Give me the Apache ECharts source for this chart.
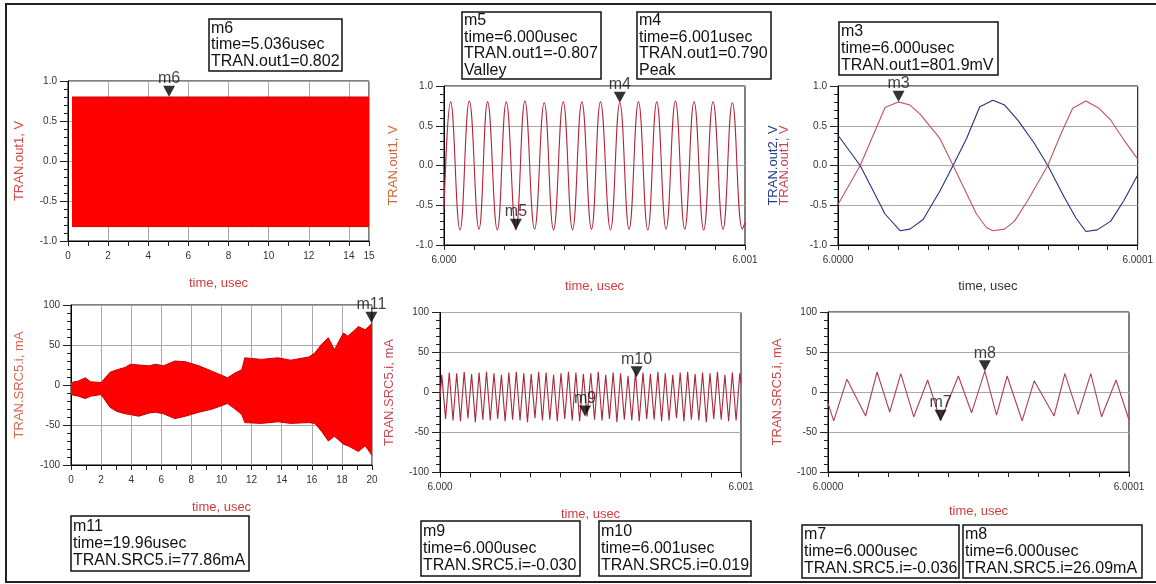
<!DOCTYPE html>
<html><head><meta charset="utf-8">
<script src="https://cdn.jsdelivr.net/npm/echarts/dist/echarts.min.js"></script>
<style>html,body{margin:0;padding:0;background:#fff}#c{width:1156px;height:584px}</style>
</head><body><div id="c"></div>
<script>
// ---------------- DATA ----------------
// Panel 1: TRAN.out1 over 0..15 usec (dense oscillation -> envelope)
const t1 = [0.2, 3, 6, 9, 12, 15];
const up1 = [0.80, 0.80, 0.80, 0.80, 0.80, 0.80];
const lo1 = [-0.82, -0.82, -0.82, -0.82, -0.82, -0.82];

// Panel 2: TRAN.out1, time offset from 6.000 usec in ps
const t2 = [0, 22.1, 53.1, 84.1, 116.2, 144.9, 177.0, 206.9, 238.9, 268.8, 300.9, 333.0, 363.9, 396.0, 427.0, 458.0, 490.0, 519.9, 553.1, 584.1, 615.0, 646.0, 677.0, 706.9, 737.8, 768.8, 799.8, 830.8, 862.8, 893.8, 927.0, 958.0, 991.2, 1000];
const v2 = [-0.55, 0.80, -0.81, 0.81, -0.80, 0.80, -0.81, 0.80, -0.81, 0.81, -0.80, 0.79, -0.81, 0.80, -0.81, 0.80, -0.80, 0.80, -0.81, 0.79, -0.80, 0.80, -0.81, 0.80, -0.80, 0.81, -0.80, 0.80, -0.81, 0.80, -0.80, 0.79, -0.80, -0.72];

// Panel 3: TRAN.out1 (red) and TRAN.out2 (blue), offset from 6.0000 usec in ps
const t3r = [0, 7.4, 15.7, 20.1, 24, 27.3, 34, 38.4, 46.2, 49.5, 51.7, 55.6, 58.9, 63.3, 70, 74.4, 78.3, 82.7, 87.1, 91, 95.4, 100];
const v3r = [-0.49, 0, 0.73, 0.80, 0.76, 0.65, 0.34, 0, -0.61, -0.78, -0.82, -0.80, -0.70, -0.44, 0, 0.40, 0.72, 0.81, 0.72, 0.57, 0.32, 0.08];
const t3b = [0, 7.4, 15.7, 20.7, 24, 28.4, 34, 38.4, 42.9, 47.3, 51.7, 55.6, 60, 65.5, 70, 75.5, 79.4, 82.7, 86.5, 91, 95.4, 100];
const v3b = [0.38, 0, -0.61, -0.82, -0.80, -0.68, -0.32, 0, 0.34, 0.74, 0.82, 0.76, 0.57, 0.28, 0, -0.40, -0.66, -0.83, -0.81, -0.70, -0.44, -0.12];

// Panel 4: TRAN.SRC5.i (mA) over 0..20 usec (dense oscillation -> envelope)
const t4 = [0, 0.5, 0.95, 1.3, 2.0, 2.6, 3.05, 3.6, 3.95, 4.5, 5.2, 5.6, 6.15, 6.9, 7.6, 8.5, 9.4, 10.4, 10.9, 11.35, 11.55, 12.65, 13.75, 14.6, 15.8, 16.2, 16.65, 17.1, 17.5, 18.1, 18.4, 19.1, 19.55, 20];
const up4 = [3, 5, 9, 4, 3, 16, 19, 22, 26, 25, 24, 26, 24, 30, 29, 24, 17, 9, 15, 19, 34, 32, 34, 31, 35, 40, 51, 59, 44, 65, 61, 73, 69, 77];
const lo4 = [-12, -14, -17, -14, -12, -28, -33, -36, -37, -39, -35, -34, -36, -42, -39, -34, -30, -23, -30, -37, -47, -48, -46, -48, -47, -48, -58, -70, -64, -74, -76, -83, -76, -88];

// Panel 5: TRAN.SRC5.i (mA), offset from 6.000 usec in ps
const t5 = [0, 6, 18.4, 30.8, 43.2, 55.5, 67.9, 80.3, 92.7, 105, 117.4, 129.8, 142.2, 154.5, 166.9, 179.3, 191.7, 204, 216.4, 228.8, 241.2, 253.5, 265.9, 278.3, 290.7, 303, 315.4, 327.8, 340.2, 352.5, 364.9, 377.3, 389.7, 402, 414.4, 426.8, 439.2, 451.5, 463.9, 476.3, 488.7, 501, 513.4, 525.8, 538.2, 550.5, 562.9, 575.3, 587.7, 600, 612.4, 624.8, 637.2, 649.5, 661.9, 674.3, 686.7, 699, 711.4, 723.8, 736.2, 748.5, 760.9, 773.3, 785.7, 798, 810.4, 822.8, 835.2, 847.5, 859.9, 872.3, 884.7, 897, 909.4, 921.8, 934.2, 946.5, 958.9, 971.3, 983.7, 996, 1000];
const v5 = [-6, 22, -33, 25, -35, 24, -36, 26, -32, 23, -37, 25, -34, 26, -35, 24, -33, 22, -36, 25, -34, 26, -35, 24, -37, 23, -32, 26, -35, 25, -34, 22, -36, 24, -33, 26, -35, 25, -36, 23, -30, 24, -34, 26, -35, 22, -33, 25, -37, 24, -34, 21, -35, 26, -36, 25, -33, 23, -34, 26, -36, 24, -35, 22, -32, 25, -36, 26, -34, 23, -35, 25, -37, 24, -33, 26, -34, 22, -36, 25, -35, 24, 12];

// Panel 6: TRAN.SRC5.i (mA), offset from 6.0000 usec in ps
const t6 = [0, 1.9, 6.3, 12.5, 16.3, 20.5, 24.2, 28.5, 33.1, 37.4, 43.3, 47.7, 52.1, 56.0, 59.5, 64.5, 68.5, 75.1, 78.7, 83.1, 87.3, 90.9, 95.7, 100];
const v6 = [-14, -36, 16, -30, 25, -25, 23, -31, 15, -36, 20, -26, 26, -29, 20, -36, 14, -30, 23, -28, 23, -31, 15, -35];

// Markers: [name, time, value] per panel
const mk1 = [['m6', 5.036, 0.802]];
const mk2 = [['m5', 239, -0.807], ['m4', 584, 0.790]];
const mk3 = [['m3', 20.2, 0.8019]];
const mk4 = [['m11', 19.96, 77.86]];
const mk5 = [['m9', 482, -30], ['m10', 653, 19]];
const mk6 = [['m7', 37.4, -36], ['m8', 52.1, 26.09]];

// Marker readout texts
const boxM6 = ['m6', 'time=5.036usec', 'TRAN.out1=0.802'];
const boxM5 = ['m5', 'time=6.000usec', 'TRAN.out1=-0.807', 'Valley'];
const boxM4 = ['m4', 'time=6.001usec', 'TRAN.out1=0.790', 'Peak'];
const boxM3 = ['m3', 'time=6.000usec', 'TRAN.out1=801.9mV'];
const boxM11 = ['m11', 'time=19.96usec', 'TRAN.SRC5.i=77.86mA'];
const boxM9 = ['m9', 'time=6.000usec', 'TRAN.SRC5.i=-0.030'];
const boxM10 = ['m10', 'time=6.001usec', 'TRAN.SRC5.i=0.019'];
const boxM7 = ['m7', 'time=6.000usec', 'TRAN.SRC5.i=-0.036'];
const boxM8 = ['m8', 'time=6.000usec', 'TRAN.SRC5.i=26.09mA'];

// ---------------- CHART ----------------
const FONT = '"Liberation Sans", Arial, sans-serif';
const zip = (a, b) => a.map((x, i) => [x, b[i]]);

const grids = [
  {left: 68, top: 81, width: 301, height: 160},
  {left: 444, top: 86, width: 301, height: 159},
  {left: 838, top: 86, width: 301, height: 159},
  {left: 71, top: 305, width: 301, height: 160},
  {left: 440, top: 312.5, width: 301, height: 160},
  {left: 828, top: 312, width: 301, height: 160}
].map(g => Object.assign(g, {show: true, borderColor: '#000', borderWidth: 1, backgroundColor: 'transparent', containLabel: false}));

function yAx(gi, min, max, iv, fmt, name, color, gap) {
  return {
    type: 'value', gridIndex: gi, min, max, interval: iv, position: 'left',
    axisLine: {show: true, onZero: false, lineStyle: {color: '#000', width: 1}},
    axisTick: {show: true, length: 8, lineStyle: {color: '#222'}},
    minorTick: {show: true, splitNumber: 5, length: 4, lineStyle: {color: '#222'}},
    axisLabel: {fontSize: 10, color: '#333', margin: 11, fontFamily: FONT, formatter: fmt},
    splitLine: {show: true, lineStyle: {color: '#a8a8a8', width: 1}},
    name, nameLocation: 'middle', nameGap: gap, nameRotate: 90,
    nameTextStyle: {color, fontSize: 13, fontFamily: FONT}
  };
}
function xAx(gi, min, max, iv, fmt, vgrid, minor, color, gap) {
  return {
    type: 'value', gridIndex: gi, min, max, interval: iv,
    axisLine: {show: true, onZero: false, lineStyle: {color: '#000', width: 1}},
    axisTick: {show: true, length: 5, lineStyle: {color: '#222'}},
    minorTick: {show: minor, splitNumber: 2, length: 5, lineStyle: {color: '#222'}},
    axisLabel: {fontSize: 10, color: '#333', margin: 10, fontFamily: FONT, formatter: fmt, showMinLabel: true, showMaxLabel: true},
    splitLine: {show: vgrid, lineStyle: {color: '#a8a8a8', width: 1}},
    name: 'time, usec', nameLocation: 'middle', nameGap: gap,
    nameTextStyle: {color, fontSize: 13, fontFamily: FONT}
  };
}
const fV = v => v.toFixed(1);
const fI = v => String(Math.round(v));
const fInt = v => String(v);
const f3 = v => v === 0 ? '6.000' : (v === 1000 ? '6.001' : '');
const f4 = v => v === 0 ? '6.0000' : (v === 100 ? '6.0001' : '');

const RED = '#d23c3c';
const xAxes = [
  xAx(0, 0, 15, 2, fInt, true, true, RED, 36),
  xAx(1, 0, 1000, 100, f3, false, false, RED, 35),
  xAx(2, 0, 100, 10, f4, false, false, '#333', 35),
  xAx(3, 0, 20, 2, fInt, true, true, RED, 36),
  xAx(4, 0, 1000, 100, f3, false, false, RED, 35),
  xAx(5, 0, 100, 10, f4, false, false, RED, 33)
];
const yAxes = [
  yAx(0, -1, 1, 0.5, fV, 'TRAN.out1, V', '#d84848', 42),
  yAx(1, -1, 1, 0.5, fV, 'TRAN.out1, V', '#cc6a3a', 44),
  yAx(2, -1, 1, 0.5, fV, 'TRAN.out1, V', '#c8485a', 47),
  yAx(3, -100, 100, 50, fI, 'TRAN.SRC5.i, mA', '#d66a50', 45),
  yAx(4, -100, 100, 50, fI, 'TRAN.SRC5.i, mA', '#cc4a5a', 44),
  yAx(5, -100, 100, 50, fI, 'TRAN.SRC5.i, mA', '#cc4848', 44),
  // second name for panel 3 (blue trace)
  {type: 'value', gridIndex: 2, min: -1, max: 1, position: 'left',
   axisLine: {show: false}, axisTick: {show: false}, axisLabel: {show: false}, splitLine: {show: false},
   name: 'TRAN.out2, V', nameLocation: 'middle', nameGap: 58, nameRotate: 90,
   nameTextStyle: {color: '#2a3c90', fontSize: 13, fontFamily: FONT}}
];

// envelope band: upper edge filled down to 0, lower edge filled up to 0
function band(gi, t, up, lo) {
  const base = {type: 'line', xAxisIndex: gi, yAxisIndex: gi, symbol: 'none', animation: false, silent: true,
    lineStyle: {color: '#c80000', width: 1}, areaStyle: {color: '#ff0000', opacity: 1, origin: 0}};
  return [
    Object.assign({}, base, {data: zip(t, up)}),
    Object.assign({}, base, {data: zip(t, lo)})
  ];
}
function trace(gi, t, v, color, smooth) {
  return {type: 'line', xAxisIndex: gi, yAxisIndex: gi, data: zip(t, v), symbol: 'none',
    smooth: smooth || false, lineStyle: {color, width: 1.1}, animation: false, silent: true};
}
function markers(gi, mk) {
  return {type: 'scatter', xAxisIndex: gi, yAxisIndex: gi, z: 10, silent: true, clip: false,
    symbol: 'path://M0 0L12 0L6 11Z', symbolSize: [12, 11], symbolOffset: [0, -5.5],
    itemStyle: {color: '#000'},
    label: {show: true, position: 'top', distance: -1, formatter: '{b}', fontSize: 16, fontFamily: FONT, color: '#111'},
    data: mk.map(m => ({name: m[0], value: [m[1], m[2]]}))};
}

const series = [].concat(
  band(0, t1, up1, lo1),
  [trace(1, t2, v2, '#b3263a', 0.45)],
  [trace(2, t3b, v3b, '#2b2f7a'), trace(2, t3r, v3r, '#c4506a')],
  band(3, t4, up4, lo4),
  [trace(4, t5, v5, '#a8283c')],
  [trace(5, t6, v6, '#b04050')],
  [markers(0, mk1), markers(1, mk2), markers(2, mk3), markers(3, mk4), markers(4, mk5), markers(5, mk6)]
);

function box(x, y, w, h, lines) {
  const lh = 16.6;
  return {type: 'group', x, y, z: 20, children: [
    {type: 'rect', shape: {x: 0, y: 0, width: w, height: h}, style: {fill: '#fff', stroke: '#111', lineWidth: 1.5}},
    {type: 'text', x: 2, y: (h - lines.length * lh) / 2, style: {text: lines.join('\n'), fontSize: 16, fontFamily: FONT,
      fill: '#111', lineHeight: lh, align: 'left', verticalAlign: 'top'}}
  ]};
}

const graphic = [
  {type: 'polyline', z: 0, shape: {points: [[1170, 4], [6, 4], [6, 582], [1170, 582]]}, style: {stroke: '#222', lineWidth: 2, fill: null}},
  box(209, 19, 133, 52, boxM6),
  box(462, 12, 139, 67, boxM5),
  box(637, 12, 134, 67, boxM4),
  box(839, 22, 159, 53, boxM3),
  box(71, 516, 178, 55, boxM11),
  box(421, 521, 159, 55, boxM9),
  box(599, 521, 152, 55, boxM10),
  box(802, 525, 157, 53, boxM7),
  box(963, 525, 179, 53, boxM8)
];

const chart = echarts.init(document.getElementById('c'), null, {renderer: 'canvas'});
chart.setOption({
  backgroundColor: '#fff',
  animation: false,
  grid: grids,
  xAxis: xAxes,
  yAxis: yAxes,
  series,
  graphic
});
</script>
</body></html>
